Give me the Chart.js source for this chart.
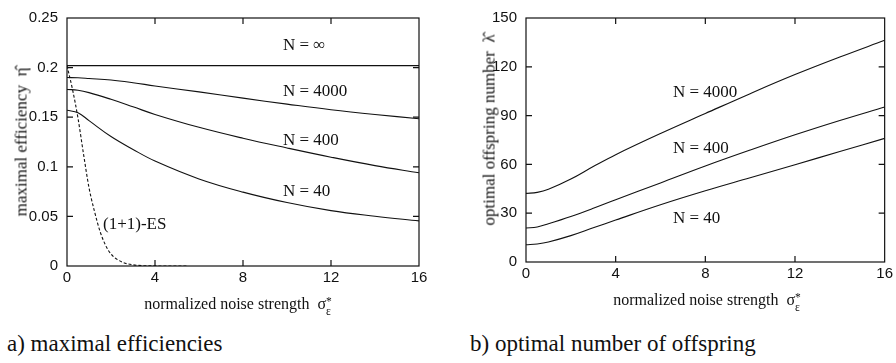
<!DOCTYPE html>
<html>
<head>
<meta charset="utf-8">
<script src="https://cdn.jsdelivr.net/npm/chart.js@4.4.1/dist/chart.umd.min.js"></script>
<style>
  body { margin: 0; background: #fff; }
  #wrap { position: relative; width: 896px; height: 363px; overflow: hidden; font-family: "Liberation Serif", "Times New Roman", serif; color: #111; }
  canvas { position: absolute; top: 0; }
  .t { position: absolute; white-space: nowrap; line-height: 1; }
  .lbl { font-size: 17px; transform: translateY(-50%); }
  .ytitle { font-size: 17px; transform: translate(-50%, -50%) rotate(-90deg); }
  .xtitle { font-size: 16px; transform: translate(-50%, -50%); }
  .cap { font-size: 23px; }
  .ss { display: inline-block; vertical-align: -0.5em; font-size: 0.72em; line-height: 0.85; }
  .ss span { display: block; }
</style>
</head>
<body>
<div id="wrap">
  <canvas id="chartA" width="440" height="300" style="left:0px"></canvas>
  <canvas id="chartB" width="436" height="300" style="left:460px"></canvas>

  <div class="t ytitle" style="left:21px; top:142px">maximal efficiency&nbsp; η̂</div>
  <div class="t xtitle" style="left:238px; top:306px">normalized noise strength&nbsp;&nbsp;σ<span class="ss"><span>*</span><span>ε</span></span></div>
  <div class="t lbl" style="left:283px; top:44px">N = ∞</div>
  <div class="t lbl" style="left:283px; top:90px">N = 4000</div>
  <div class="t lbl" style="left:283px; top:139px">N = 400</div>
  <div class="t lbl" style="left:283px; top:190px">N = 40</div>
  <div class="t lbl" style="left:103px; top:223px">(1+1)-ES</div>
  <div class="t cap" style="left:7px; top:332px">a) maximal efficiencies</div>

  <div class="t ytitle" style="left:489px; top:130px">optimal offspring number&nbsp; λ̂</div>
  <div class="t xtitle" style="left:707px; top:302px">normalized noise strength&nbsp;&nbsp;σ<span class="ss"><span>*</span><span>ε</span></span></div>
  <div class="t lbl" style="left:673px; top:91px">N = 4000</div>
  <div class="t lbl" style="left:673px; top:147px">N = 400</div>
  <div class="t lbl" style="left:673px; top:217px">N = 40</div>
  <div class="t cap" style="left:470px; top:332px">b) optimal number of offspring</div>
</div>
<script>
// a) maximal efficiencies
var sigmaA = [0, 0.5, 1, 2, 3, 4, 6, 8, 10, 12, 14, 16];
var etaInfX = [0, 16];
var etaInf = [0.202, 0.202];
var eta4000 = [0.190, 0.1897, 0.189, 0.1875, 0.1848, 0.1815, 0.1755, 0.1692, 0.1632, 0.1575, 0.1527, 0.1485];
var eta400 = [0.178, 0.1772, 0.1748, 0.168, 0.1605, 0.1528, 0.1398, 0.1288, 0.1190, 0.1097, 0.1012, 0.094];
var eta40 = [0.157, 0.1545, 0.1465, 0.1305, 0.1175, 0.1058, 0.0878, 0.0745, 0.0640, 0.0558, 0.0502, 0.0455];
var sigmaES = [0, 0.25, 0.5, 0.75, 1, 1.25, 1.5, 1.75, 2, 2.5, 3, 3.5, 4, 5.5];
var etaES = [0.202, 0.178, 0.149, 0.113, 0.079, 0.055, 0.035, 0.021, 0.012, 0.004, 0.0012, 0.0003, 0.0001, 0];
var xTicks = [0, 4, 8, 12, 16];
var yTicksA = [0, 0.05, 0.1, 0.15, 0.2, 0.25];

// b) optimal number of offspring
var sigmaB = [0, 0.5, 1, 2, 3, 4, 6, 8, 10, 12, 14, 16];
var lam4000 = [42.2, 42.8, 44.7, 51, 58.7, 66, 79, 91.3, 103.5, 115.2, 126, 136.3];
var lam400 = [20.9, 21.5, 23.5, 28, 33, 38.3, 48.6, 59, 68.8, 78.2, 87, 95.3];
var lam40 = [10.6, 11.1, 12.3, 16.2, 21, 25.8, 35.2, 43.8, 51.8, 59.8, 67.9, 76];
var yTicksB = [0, 30, 60, 90, 120, 150];

function pts(xs, ys) {
  return xs.map(function (x, i) { return {x: x, y: ys[i]}; });
}

function curve(xs, ys, dashed) {
  return {
    data: pts(xs, ys),
    borderColor: '#111',
    borderWidth: 1.1,
    borderDash: dashed ? [3, 2] : [],
    pointRadius: 0,
    fill: false,
    tension: 0.4,
    cubicInterpolationMode: dashed ? 'monotone' : 'default'
  };
}

// gnuplot style frame with inward ticks on all four sides
var frameTicks = {
  id: 'frameTicks',
  afterDatasetsDraw: function (chart) {
    var ctx = chart.ctx, a = chart.chartArea, x = chart.scales.x, y = chart.scales.y;
    ctx.save();
    ctx.strokeStyle = '#111';
    ctx.lineWidth = 1.2;
    ctx.strokeRect(a.left, a.top, a.right - a.left, a.bottom - a.top);
    ctx.beginPath();
    x.ticks.forEach(function (t) {
      var px = x.getPixelForValue(t.value);
      if (px <= a.left + 1 || px >= a.right - 1) return;
      ctx.moveTo(px, a.bottom); ctx.lineTo(px, a.bottom - 6);
      ctx.moveTo(px, a.top); ctx.lineTo(px, a.top + 6);
    });
    y.ticks.forEach(function (t) {
      var py = y.getPixelForValue(t.value);
      if (py <= a.top + 1 || py >= a.bottom - 1) return;
      ctx.moveTo(a.left, py); ctx.lineTo(a.left + 6, py);
      ctx.moveTo(a.right, py); ctx.lineTo(a.right - 6, py);
    });
    ctx.stroke();
    ctx.restore();
  }
};

function makeChart(id, datasets, yMax, yTicks, yWidth, xHeight, pad, fontSize) {
  return new Chart(document.getElementById(id), {
    type: 'line',
    data: {datasets: datasets},
    plugins: [frameTicks],
    options: {
      responsive: false,
      animation: false,
      devicePixelRatio: 1,
      layout: {padding: pad},
      plugins: {legend: {display: false}, tooltip: {enabled: false}},
      scales: {
        x: {
          type: 'linear', min: 0, max: 16,
          grid: {display: false, drawTicks: false},
          border: {display: false},
          afterBuildTicks: function (s) { s.ticks = xTicks.map(function (v) { return {value: v}; }); },
          afterFit: function (s) { s.height = xHeight; },
          ticks: {color: '#111', padding: 3, maxRotation: 0, font: {family: 'Liberation Sans', size: fontSize}}
        },
        y: {
          min: 0, max: yMax,
          grid: {display: false, drawTicks: false},
          border: {display: false},
          afterBuildTicks: function (s) { s.ticks = yTicks.map(function (v) { return {value: v}; }); },
          afterFit: function (s) { s.width = yWidth; },
          ticks: {color: '#111', padding: 9, font: {family: 'Liberation Sans', size: fontSize},
                  callback: function (v) { return String(Math.round(v * 1000) / 1000); }}
        }
      }
    }
  });
}

makeChart('chartA', [
  curve(etaInfX, etaInf),
  curve(sigmaA, eta4000),
  curve(sigmaA, eta400),
  curve(sigmaA, eta40),
  curve(sigmaES, etaES, true)
], 0.25, yTicksA, 67, 34, {left: 0, top: 9, right: 21, bottom: 0}, 15);

makeChart('chartB', [
  curve(sigmaB, lam4000),
  curve(sigmaB, lam400),
  curve(sigmaB, lam40)
], 150, yTicksB, 66, 38, {left: 0, top: 17, right: 11, bottom: 0}, 15);
</script>
</body>
</html>
